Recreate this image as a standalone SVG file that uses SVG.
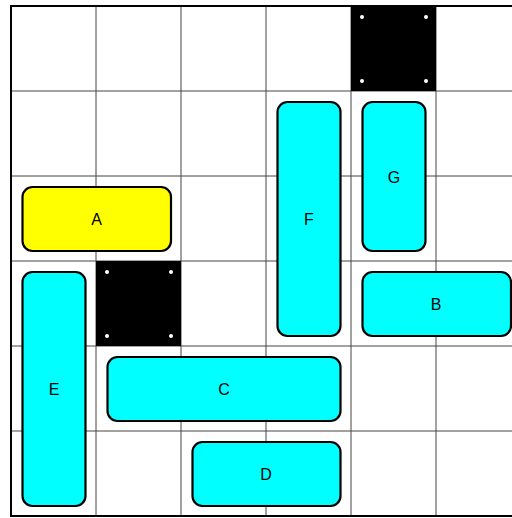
<svg xmlns="http://www.w3.org/2000/svg" width="512" height="518" viewBox="0 0 512 518">
<style>
.grid{stroke:#444;stroke-width:1;fill:none}
.wall{fill:#000}
.dot{fill:#fff}
.piece{stroke:#000;stroke-width:2.2}
.cyan{fill:#00ffff}
.yellow{fill:#ffff00}
.lbl{font-family:"Liberation Sans",Arial,sans-serif;font-size:16px;fill:#000;text-anchor:middle;dominant-baseline:central}
</style>
<rect width="512" height="518" fill="#fff"/>
<g id="grid">
<path class="grid" d="M96,6V516M181,6V516M266,6V516M351,6V516M436,6V516M11,91H521M11,176H521M11,261H521M11,346H521M11,431H521"/>
<rect x="11" y="6" width="510" height="510" fill="none" stroke="#000" stroke-width="2"/>
</g>
<g id="wall1">
<rect class="wall" x="351" y="6" width="85" height="85"/>
<circle class="dot" cx="362" cy="17" r="2"/><circle class="dot" cx="426" cy="17" r="2"/>
<circle class="dot" cx="362" cy="81" r="2"/><circle class="dot" cx="426" cy="81" r="2"/>
</g>
<g id="wall2">
<rect class="wall" x="96" y="261" width="85" height="85"/>
<circle class="dot" cx="107" cy="272" r="2"/><circle class="dot" cx="171" cy="272" r="2"/>
<circle class="dot" cx="107" cy="336" r="2"/><circle class="dot" cx="171" cy="336" r="2"/>
</g>
<g id="A"><rect class="piece yellow" x="22.5" y="187" width="148.5" height="64" rx="10"/><text class="lbl" x="96.5" y="219">A</text></g>
<g id="G"><rect class="piece cyan" x="362.5" y="102" width="63" height="149" rx="10"/><text class="lbl" x="394" y="177">G</text></g>
<g id="F"><rect class="piece cyan" x="277.5" y="102" width="63" height="234" rx="10"/><text class="lbl" x="309" y="219">F</text></g>
<g id="B"><rect class="piece cyan" x="362.5" y="272" width="148.5" height="64" rx="10"/><text class="lbl" x="436" y="304">B</text></g>
<g id="E"><rect class="piece cyan" x="22.5" y="272" width="63" height="234" rx="10"/><text class="lbl" x="54" y="389">E</text></g>
<g id="C"><rect class="piece cyan" x="107.5" y="357" width="233" height="64" rx="10"/><text class="lbl" x="224" y="389">C</text></g>
<g id="D"><rect class="piece cyan" x="192.5" y="442" width="148" height="64" rx="10"/><text class="lbl" x="266" y="474">D</text></g>
</svg>
